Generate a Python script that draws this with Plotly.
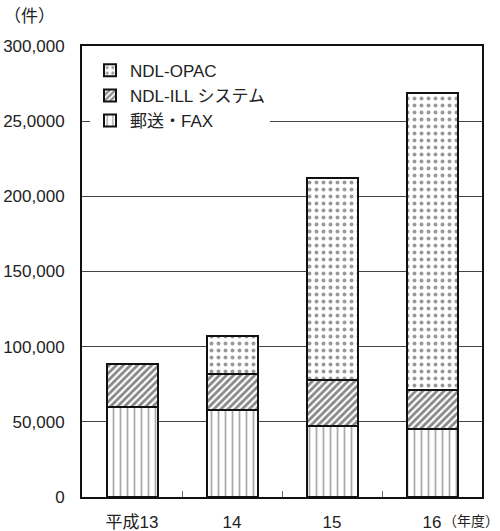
import plotly.graph_objects as go

categories = ["平成13", "14", "15", "16"]
mail_fax = [60000, 58000, 47000, 45500]
ndl_ill = [28500, 23800, 30500, 25800]
ndl_opac = [None, 25500, 134500, 197700]

series_names = ["郵送・FAX", "NDL-ILL システム", "NDL-OPAC"]
ytick_vals = [0, 50000, 100000, 150000, 200000, 250000, 300000]
ytick_text = ["0", "50,000", "100,000", "150,000", "200,000", "25,0000", "300,000"]

FONT = "Liberation Sans, Noto Sans CJK JP, sans-serif"

fig = go.Figure()
fig.add_trace(go.Bar(
    x=categories, y=mail_fax, name=series_names[0],
    marker=dict(color="white", line=dict(color="#111", width=2),
                pattern=dict(shape="|", fgcolor="#555", bgcolor="white", size=7, solidity=0.25)),
))
fig.add_trace(go.Bar(
    x=categories, y=ndl_ill, name=series_names[1],
    marker=dict(color="white", line=dict(color="#111", width=2),
                pattern=dict(shape="/", fgcolor="#111", bgcolor="white", size=5, solidity=0.55)),
))
fig.add_trace(go.Bar(
    x=categories, y=ndl_opac, name=series_names[2],
    marker=dict(color="white", line=dict(color="#111", width=2),
                pattern=dict(shape=".", fgcolor="#333", bgcolor="white", size=7, solidity=0.25)),
))

fig.update_layout(
    barmode="stack",
    bargap=0.49,
    width=500, height=531,
    margin=dict(l=82, r=18, t=46, b=34, autoexpand=False),
    paper_bgcolor="white", plot_bgcolor="white",
    font=dict(family=FONT, size=17, color="#222"),
    showlegend=True,
    legend=dict(
        x=0.02, y=0.985, xanchor="left", yanchor="top",
        traceorder="reversed", bgcolor="white", borderwidth=0,
        font=dict(size=17, color="#222"), itemsizing="constant",
        tracegroupgap=0,
    ),
    xaxis=dict(
        showline=True, linecolor="#111", linewidth=2, mirror=True,
        ticks="inside", tickson="boundaries", ticklen=6, tickcolor="#666",
        tickfont=dict(size=17), showgrid=False, ticklabelstandoff=9,
        automargin=False,
    ),
    yaxis=dict(
        range=[0, 300000], tickvals=ytick_vals, ticktext=ytick_text,
        showline=True, linecolor="#111", linewidth=2, mirror=True,
        ticks="inside", ticklen=8, tickcolor="#444",
        showgrid=True, gridcolor="#444", gridwidth=1.2,
        tickfont=dict(size=17), ticklabelstandoff=12, zeroline=False,
        automargin=False,
    ),
    shapes=[
        dict(type="rect", xref="paper", yref="paper", x0=0.005, x1=0.57,
             y0=0.75, y1=0.99, fillcolor="white", line=dict(width=0), layer="between"),
    ],
    annotations=[
        dict(text="（件）", xref="paper", yref="paper", x=-0.2, y=1.066,
             xanchor="left", yanchor="middle", showarrow=False, font=dict(size=17)),
        dict(text="（年度）", xref="paper", yref="paper", x=0.9, y=-0.053,
             xanchor="left", yanchor="middle", showarrow=False, borderpad=0,
             font=dict(size=14)),
    ],
)

fig.write_html("out.html")
